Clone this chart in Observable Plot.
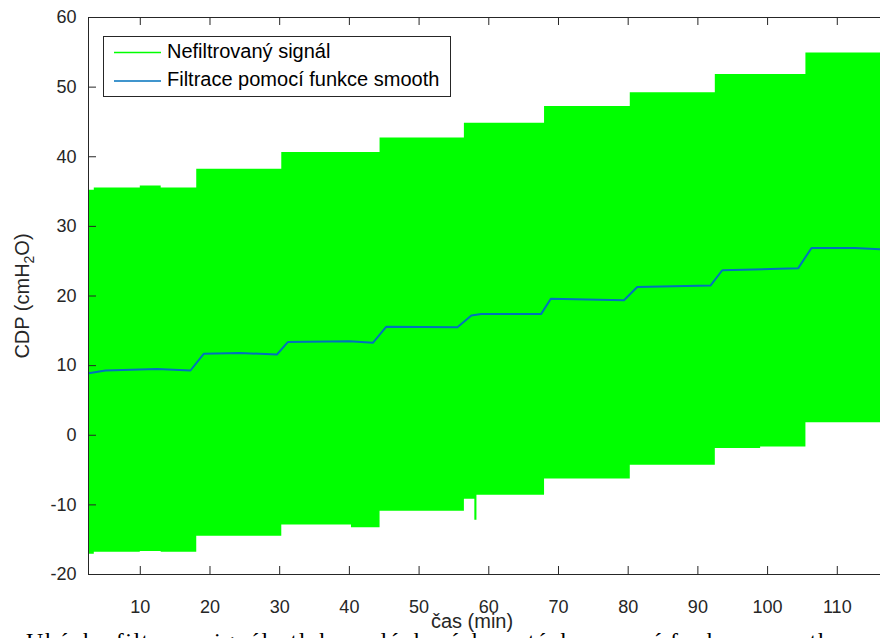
<!DOCTYPE html>
<html>
<head>
<meta charset="utf-8">
<script src="https://cdn.jsdelivr.net/npm/d3@7"></script>
<script src="https://cdn.jsdelivr.net/npm/@observablehq/plot@0.6"></script>
<style>
html, body { margin: 0; padding: 0; background: #fff; overflow: hidden; width: 880px; height: 638px; }
#wrap { position: relative; width: 880px; height: 638px; overflow: hidden; }
#caption { position: absolute; left: 26px; top: 628px; font-family: "Liberation Serif", "DejaVu Serif", serif; font-size: 24px; letter-spacing: 1.5px; white-space: nowrap; color: #000; }
svg { display: block; }
</style>
</head>
<body>
<div id="wrap">
  <div id="chart"></div>
  <div id="caption">Ukázka filtrace signálu tlaku v dýchacích cestách pomocí funkce smooth</div>
</div>
<script>
// Envelope of the unfiltered (green) signal: step times, upper and lower bounds
const envT     = [2.6,   3.4,  10.0,  13.0,  18.1,  30.3,  40.3,  44.4,  56.5,  58.0,  58.3,  68.0,  80.3,  92.5,  99.0, 105.5, 116.2];
const envUpper = [35.2,  35.5,  35.8,  35.5,  38.2,  40.6,  40.6,  42.7,  44.8,  44.8,  44.8,  47.2,  49.2,  51.8,  51.8,  54.9,  54.9];
const envLower = [-17.1, -16.8, -16.7, -16.8, -14.5, -12.9, -13.3, -10.9, -9.2, -12.2,  -8.6,  -6.3,  -4.3,  -1.9,  -1.7,   1.8,   1.8];

// Filtered (smooth) signal
const smoothT = [2.6, 5.0, 12.4, 17.2, 19.1, 24.3, 29.6, 31.2, 40.0, 43.4, 45.3, 55.5, 57.5, 58.9, 67.5, 68.9, 79.4, 81.3, 91.8, 93.5, 101.6, 104.4, 106.3, 112.5, 116.2];
const smoothV = [8.9, 9.3,  9.5,  9.3, 11.7, 11.8, 11.6, 13.4, 13.5, 13.3, 15.6, 15.5, 17.2, 17.4, 17.4, 19.6, 19.4, 21.3, 21.5, 23.7,  23.9,  24.0,  26.9,  26.9,  26.7];

const xTicks = [10, 20, 30, 40, 50, 60, 70, 80, 90, 100, 110];
const yTicks = [-20, -10, 0, 10, 20, 30, 40, 50, 60];
const xDomain = [2.57, 116.2];
const yDomain = [-20, 60];

const legendLabels = ["Nefiltrovaný signál", "Filtrace pomocí funkce smooth"];
const seriesColors = ["#00ff00", "#0072bd"];
const xLabel = "čas (min)";

const axisColor = "#262626";
const tickFont = 18;
const W = 880, H = 638, mL = 88, mR = 0, mT = 17, mB = 64, tickLen = 8;
const innerW = W - mL - mR, innerH = H - mT - mB;

const env = envT.map((t, i) => ({t, lo: envLower[i], hi: envUpper[i]}));
const smooth = smoothT.map((t, i) => ({t, v: smoothV[i]}));

const chart = Plot.plot({
  width: W,
  height: H,
  marginLeft: mL,
  marginRight: mR,
  marginTop: mT,
  marginBottom: mB,
  style: {fontFamily: "'Liberation Sans', Arial, sans-serif", color: axisColor, background: "#fff"},
  x: {domain: xDomain, label: null},
  y: {domain: yDomain, label: null},
  marks: [
    Plot.areaY(env, {x: "t", y1: "lo", y2: "hi", curve: "step-after", fill: seriesColors[0], clip: true}),
    Plot.line(smooth, {x: "t", y: "v", stroke: seriesColors[1], strokeWidth: 2, clip: true}),
    Plot.frame({stroke: axisColor, strokeWidth: 1}),
    // inward ticks (bottom, top, left)
    Plot.ruleX(xTicks, {x: d => d, insetTop: innerH - tickLen, stroke: axisColor, strokeWidth: 1}),
    Plot.ruleX(xTicks, {x: d => d, insetBottom: innerH - tickLen, stroke: axisColor, strokeWidth: 1}),
    Plot.ruleY(yTicks, {y: d => d, insetRight: innerW - tickLen, stroke: axisColor, strokeWidth: 1}),
    // tick labels
    Plot.axisX({ticks: xTicks, anchor: "bottom", tickSize: 0, tickPadding: 26, fontSize: tickFont, label: null, fill: axisColor, tickFormat: d => String(d)}),
    Plot.axisY({ticks: yTicks, anchor: "left", tickSize: 0, tickPadding: 12, fontSize: tickFont, label: null, fill: axisColor, tickFormat: d => String(d)})
  ]
});

document.getElementById("chart").appendChild(chart);

const svg = d3.select(chart);
// axis titles
svg.append("text")
  .attr("x", 472).attr("y", 623)
  .attr("text-anchor", "middle").attr("dominant-baseline", "middle")
  .attr("font-size", 20).attr("fill", axisColor)
  .text(xLabel);

const yl = svg.append("text")
  .attr("transform", "translate(24,296) rotate(-90)")
  .attr("text-anchor", "middle").attr("dominant-baseline", "middle")
  .attr("font-size", 20).attr("fill", axisColor);
yl.append("tspan").text("CDP (cmH");
yl.append("tspan").attr("font-size", 14).attr("dy", 6).text("2");
yl.append("tspan").attr("dy", -6).text("O)");

// legend
const lg = svg.append("g");
lg.append("rect").attr("x", 103.5).attr("y", 36.5).attr("width", 347).attr("height", 60)
  .attr("fill", "#fff").attr("stroke", axisColor).attr("stroke-width", 1);
const rowsY = [52.5, 81];
legendLabels.forEach((lab, i) => {
  lg.append("line").attr("x1", 114).attr("x2", 161).attr("y1", rowsY[i]).attr("y2", rowsY[i])
    .attr("stroke", seriesColors[i]).attr("stroke-width", 1.5);
  lg.append("text").attr("x", 167).attr("y", rowsY[i]).attr("text-anchor", "start")
    .attr("dominant-baseline", "middle")
    .attr("font-size", 20).attr("fill", "#000").text(lab);
});
</script>
</body>
</html>
